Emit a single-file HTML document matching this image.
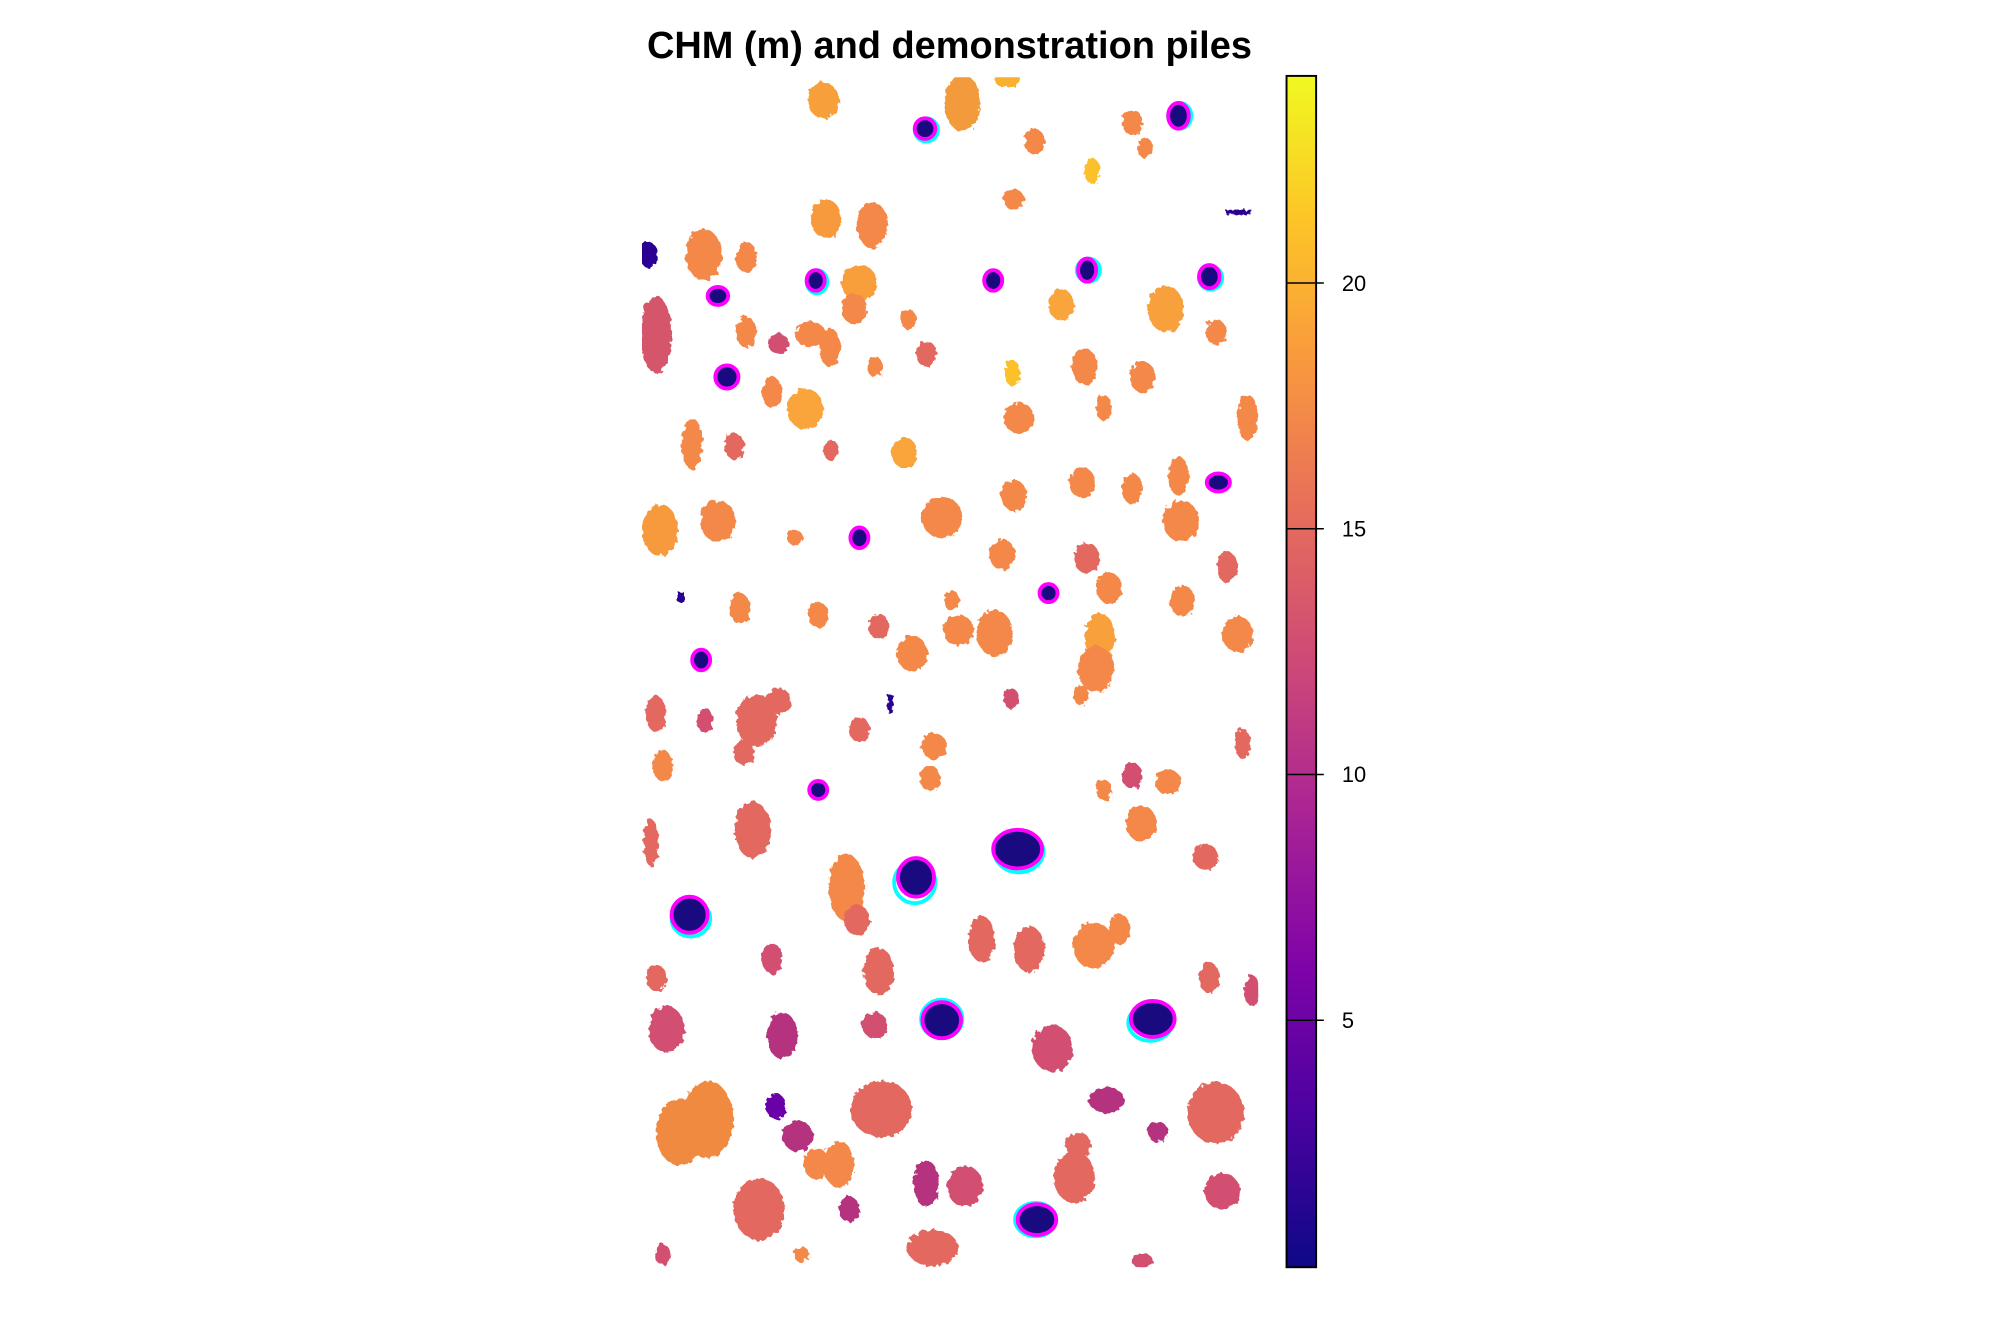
<!DOCTYPE html>
<html><head><meta charset="utf-8"><style>
html,body{margin:0;padding:0;background:#fff;}
svg{display:block;}
</style></head><body>
<svg width="2016" height="1344" viewBox="0 0 1567 1044.67" xmlns="http://www.w3.org/2000/svg">
<defs>
<linearGradient id="pl" x1="0" y1="1" x2="0" y2="0">
<stop offset="0" stop-color="#0d0887"/>
<stop offset="0.13" stop-color="#4c02a1"/>
<stop offset="0.25" stop-color="#7e03a8"/>
<stop offset="0.38" stop-color="#a92395"/>
<stop offset="0.5" stop-color="#cc4778"/>
<stop offset="0.63" stop-color="#e66c5c"/>
<stop offset="0.75" stop-color="#f89540"/>
<stop offset="0.88" stop-color="#fdc527"/>
<stop offset="1" stop-color="#f0f921"/>
</linearGradient>
<clipPath id="cp"><rect x="499" y="60" width="479" height="925"/></clipPath>
<filter id="rag"><feTurbulence type="fractalNoise" baseFrequency="0.25" numOctaves="2" seed="3"/><feDisplacementMap in="SourceGraphic" scale="5"/></filter>
</defs>
<text x="738" y="45" text-anchor="middle" font-family="Liberation Sans, sans-serif" font-weight="bold" font-size="29.5">CHM (m) and demonstration piles</text>
<g clip-path="url(#cp)" filter="url(#rag)">
<g fill="#f48849">
<ellipse cx="640" cy="78" rx="12" ry="14" fill="#f7a03a"/>
<ellipse cx="748" cy="80" rx="14" ry="22" fill="#f39a3e"/>
<ellipse cx="783" cy="62" rx="10" ry="6" fill="#f9b02f"/>
<ellipse cx="804" cy="110" rx="8" ry="10"/>
<ellipse cx="849" cy="133" rx="6" ry="10" fill="#fcc12a"/>
<ellipse cx="880" cy="95" rx="8" ry="10"/>
<ellipse cx="890" cy="115" rx="6" ry="8"/>
<ellipse cx="788" cy="155" rx="8" ry="8"/>
<ellipse cx="642" cy="170" rx="12" ry="15" fill="#f79a3d"/>
<ellipse cx="678" cy="175" rx="12" ry="18"/>
<ellipse cx="547" cy="198" rx="14" ry="20"/>
<ellipse cx="580" cy="200" rx="8" ry="12"/>
<ellipse cx="510" cy="260" rx="12" ry="30" fill="#d5566a"/>
<ellipse cx="668" cy="220" rx="14" ry="14" fill="#f89e3a"/>
<ellipse cx="664" cy="240" rx="10" ry="12"/>
<ellipse cx="706" cy="248" rx="6" ry="8"/>
<ellipse cx="720" cy="275" rx="8" ry="10" fill="#e3685f"/>
<ellipse cx="825" cy="237" rx="10" ry="12" fill="#f9a53a"/>
<ellipse cx="906" cy="240" rx="14" ry="18" fill="#f8a03b"/>
<ellipse cx="945" cy="258" rx="8" ry="10"/>
<ellipse cx="645" cy="270" rx="8" ry="15"/>
<ellipse cx="630" cy="260" rx="12" ry="10"/>
<ellipse cx="605" cy="267" rx="8" ry="8" fill="#d24f72"/>
<ellipse cx="580" cy="258" rx="8" ry="12"/>
<ellipse cx="600" cy="305" rx="8" ry="12"/>
<ellipse cx="626" cy="318" rx="14" ry="16" fill="#f9a53a"/>
<ellipse cx="680" cy="285" rx="6" ry="8"/>
<ellipse cx="787" cy="290" rx="6" ry="10" fill="#fcc12a"/>
<ellipse cx="843" cy="285" rx="10" ry="14"/>
<ellipse cx="888" cy="293" rx="10" ry="12"/>
<ellipse cx="792" cy="325" rx="12" ry="12"/>
<ellipse cx="858" cy="317" rx="6" ry="10"/>
<ellipse cx="970" cy="325" rx="8" ry="18"/>
<ellipse cx="538" cy="345" rx="8" ry="20"/>
<ellipse cx="571" cy="347" rx="8" ry="10" fill="#e3685f"/>
<ellipse cx="646" cy="350" rx="6" ry="8" fill="#e3685f"/>
<ellipse cx="703" cy="352" rx="10" ry="12" fill="#f9a53a"/>
<ellipse cx="732" cy="402" rx="16" ry="16"/>
<ellipse cx="788" cy="385" rx="10" ry="12"/>
<ellipse cx="841" cy="375" rx="10" ry="12"/>
<ellipse cx="880" cy="380" rx="8" ry="12"/>
<ellipse cx="916" cy="370" rx="8" ry="15"/>
<ellipse cx="918" cy="405" rx="14" ry="16"/>
<ellipse cx="513" cy="412" rx="14" ry="20" fill="#f79a3d"/>
<ellipse cx="558" cy="405" rx="14" ry="16"/>
<ellipse cx="618" cy="418" rx="6" ry="6"/>
<ellipse cx="779" cy="431" rx="10" ry="12"/>
<ellipse cx="845" cy="434" rx="10" ry="12" fill="#e3685f"/>
<ellipse cx="862" cy="457" rx="10" ry="12"/>
<ellipse cx="954" cy="441" rx="8" ry="12" fill="#e3685f"/>
<ellipse cx="575" cy="473" rx="8" ry="12"/>
<ellipse cx="636" cy="478" rx="8" ry="10"/>
<ellipse cx="683" cy="487" rx="8" ry="10" fill="#e3685f"/>
<ellipse cx="740" cy="467" rx="6" ry="8"/>
<ellipse cx="745" cy="490" rx="12" ry="12"/>
<ellipse cx="773" cy="492" rx="14" ry="18"/>
<ellipse cx="709" cy="508" rx="12" ry="14"/>
<ellipse cx="855" cy="495" rx="12" ry="18" fill="#f8a03b"/>
<ellipse cx="852" cy="520" rx="14" ry="18"/>
<ellipse cx="919" cy="467" rx="10" ry="12"/>
<ellipse cx="962" cy="493" rx="12" ry="14"/>
<ellipse cx="840" cy="540" rx="6" ry="8"/>
<ellipse cx="786" cy="543" rx="6" ry="8" fill="#d24f72"/>
<ellipse cx="510" cy="555" rx="8" ry="14" fill="#e3685f"/>
<ellipse cx="548" cy="560" rx="6" ry="10" fill="#d24f72"/>
<ellipse cx="588" cy="560" rx="16" ry="20" fill="#e3685f"/>
<ellipse cx="605" cy="545" rx="10" ry="10" fill="#e3685f"/>
<ellipse cx="578" cy="585" rx="8" ry="10" fill="#e3685f"/>
<ellipse cx="515" cy="595" rx="8" ry="12"/>
<ellipse cx="668" cy="567" rx="8" ry="10" fill="#e3685f"/>
<ellipse cx="726" cy="580" rx="10" ry="10"/>
<ellipse cx="723" cy="605" rx="8" ry="10"/>
<ellipse cx="880" cy="603" rx="8" ry="10" fill="#d24f72"/>
<ellipse cx="908" cy="608" rx="10" ry="10"/>
<ellipse cx="858" cy="614" rx="6" ry="8"/>
<ellipse cx="887" cy="640" rx="12" ry="14"/>
<ellipse cx="937" cy="666" rx="10" ry="10" fill="#e3685f"/>
<ellipse cx="966" cy="578" rx="6" ry="12" fill="#e3685f"/>
<ellipse cx="585" cy="645" rx="14" ry="22" fill="#e3685f"/>
<ellipse cx="506" cy="655" rx="6" ry="18" fill="#e3685f"/>
<ellipse cx="658" cy="690" rx="14" ry="26"/>
<ellipse cx="666" cy="715" rx="10" ry="12" fill="#e3685f"/>
<ellipse cx="763" cy="730" rx="10" ry="18" fill="#e3685f"/>
<ellipse cx="800" cy="738" rx="12" ry="18" fill="#e3685f"/>
<ellipse cx="850" cy="735" rx="16" ry="18"/>
<ellipse cx="870" cy="722" rx="8" ry="12"/>
<ellipse cx="683" cy="755" rx="12" ry="18" fill="#e3685f"/>
<ellipse cx="600" cy="745" rx="8" ry="12" fill="#d24f72"/>
<ellipse cx="510" cy="760" rx="8" ry="10" fill="#e3685f"/>
<ellipse cx="940" cy="760" rx="8" ry="12" fill="#e3685f"/>
<ellipse cx="973" cy="770" rx="6" ry="12" fill="#d24f72"/>
<ellipse cx="518" cy="800" rx="14" ry="18" fill="#d24f72"/>
<ellipse cx="608" cy="805" rx="12" ry="18" fill="#b5307e"/>
<ellipse cx="680" cy="797" rx="10" ry="10" fill="#d24f72"/>
<ellipse cx="818" cy="815" rx="16" ry="18" fill="#d24f72"/>
<ellipse cx="860" cy="855" rx="14" ry="10" fill="#b5307e"/>
<ellipse cx="528" cy="880" rx="18" ry="26" fill="#f08a40"/>
<ellipse cx="550" cy="870" rx="20" ry="30" fill="#f08a40"/>
<ellipse cx="603" cy="860" rx="8" ry="10" fill="#6a00a8"/>
<ellipse cx="620" cy="883" rx="12" ry="12" fill="#b5307e"/>
<ellipse cx="685" cy="862" rx="24" ry="22" fill="#e3685f"/>
<ellipse cx="635" cy="905" rx="10" ry="12"/>
<ellipse cx="652" cy="905" rx="12" ry="18"/>
<ellipse cx="720" cy="920" rx="10" ry="18" fill="#b5307e"/>
<ellipse cx="750" cy="922" rx="14" ry="16" fill="#d24f72"/>
<ellipse cx="835" cy="915" rx="16" ry="20" fill="#e3685f"/>
<ellipse cx="838" cy="890" rx="10" ry="10" fill="#e3685f"/>
<ellipse cx="945" cy="865" rx="22" ry="24" fill="#e3685f"/>
<ellipse cx="950" cy="926" rx="14" ry="14" fill="#d24f72"/>
<ellipse cx="590" cy="940" rx="20" ry="24" fill="#e3685f"/>
<ellipse cx="660" cy="940" rx="8" ry="10" fill="#b5307e"/>
<ellipse cx="725" cy="970" rx="20" ry="14" fill="#e3685f"/>
<ellipse cx="888" cy="980" rx="8" ry="6" fill="#d24f72"/>
<ellipse cx="900" cy="880" rx="8" ry="8" fill="#b5307e"/>
<ellipse cx="515" cy="975" rx="6" ry="8" fill="#d24f72"/>
<ellipse cx="623" cy="975" rx="6" ry="6"/>
</g>
<ellipse cx="504" cy="198" rx="7" ry="10" fill="#2a0593"/>
<g fill="#2a0593">
<rect x="953" y="163" width="20" height="4"/>
<rect x="690" y="540" width="4" height="14"/>
<rect x="527" y="460" width="5" height="8"/>
</g>
</g>
<g fill="#1a0a80" stroke="#ff00ff" stroke-width="3">
<g stroke="#00ffff" fill="none" stroke-width="3">
<ellipse cx="720" cy="101" rx="9" ry="9"/>
<ellipse cx="917" cy="90" rx="9" ry="10"/>
<ellipse cx="635" cy="219" rx="8" ry="9"/>
<ellipse cx="846" cy="210" rx="9" ry="9"/>
<ellipse cx="941" cy="216" rx="9" ry="9"/>
<ellipse cx="792" cy="662" rx="19" ry="16"/>
<ellipse cx="711" cy="686" rx="16" ry="16"/>
<ellipse cx="537" cy="714" rx="15" ry="14"/>
<ellipse cx="732" cy="792" rx="16" ry="15"/>
<ellipse cx="894" cy="795" rx="17" ry="14"/>
<ellipse cx="805" cy="948" rx="16" ry="13"/>
</g>
<ellipse cx="719" cy="100" rx="8" ry="8"/>
<ellipse cx="916" cy="90" rx="8" ry="10"/>
<ellipse cx="634" cy="218" rx="7" ry="8"/>
<ellipse cx="558" cy="230" rx="8" ry="7"/>
<ellipse cx="772" cy="218" rx="7" ry="8"/>
<ellipse cx="845" cy="210" rx="7" ry="9"/>
<ellipse cx="940" cy="215" rx="8" ry="9"/>
<ellipse cx="565" cy="293" rx="9" ry="9"/>
<ellipse cx="947" cy="375" rx="9" ry="7"/>
<ellipse cx="668" cy="418" rx="7" ry="8"/>
<ellipse cx="815" cy="461" rx="7" ry="7"/>
<ellipse cx="545" cy="513" rx="7" ry="8"/>
<ellipse cx="636" cy="614" rx="7" ry="7"/>
<ellipse cx="791" cy="660" rx="19" ry="15"/>
<ellipse cx="712" cy="682" rx="14" ry="15"/>
<ellipse cx="536" cy="711" rx="14" ry="14"/>
<ellipse cx="732" cy="793" rx="15" ry="14"/>
<ellipse cx="896" cy="792" rx="17" ry="14"/>
<ellipse cx="806" cy="948" rx="15" ry="12"/>
</g>
<rect x="1000" y="59" width="23" height="926" fill="url(#pl)" stroke="#000" stroke-width="1.5"/>
<g stroke="#000" stroke-width="1.2">
<line x1="1000" y1="220" x2="1029" y2="220"/>
<line x1="1000" y1="411" x2="1029" y2="411"/>
<line x1="1000" y1="602" x2="1029" y2="602"/>
<line x1="1000" y1="793" x2="1029" y2="793"/>
</g>
<g font-family="Liberation Sans, sans-serif" font-size="17" fill="#000">
<text x="1043" y="226">20</text>
<text x="1043" y="417">15</text>
<text x="1043" y="608">10</text>
<text x="1043" y="799">5</text>
</g>
</svg>
</body></html>
